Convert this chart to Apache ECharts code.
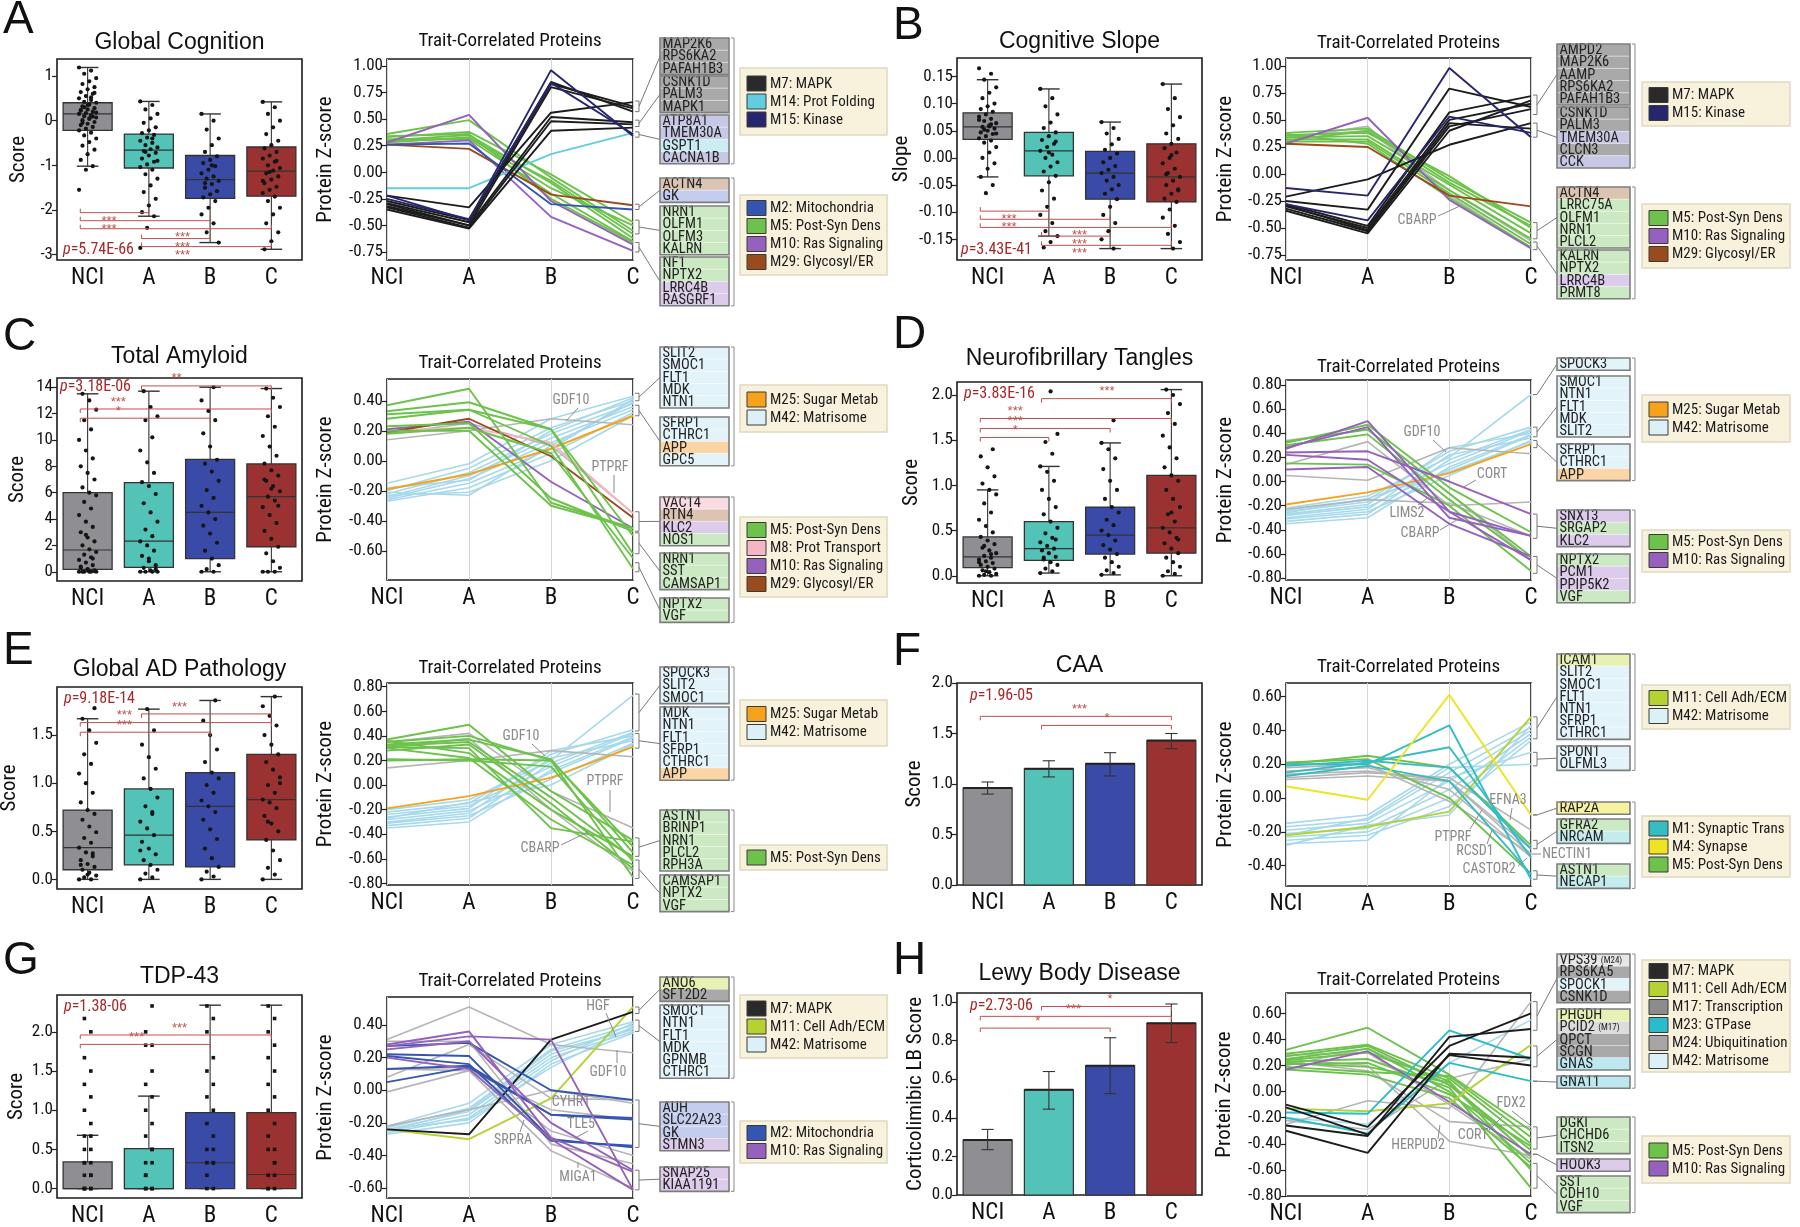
<!DOCTYPE html>
<html><head><meta charset="utf-8">
<script src="https://cdn.jsdelivr.net/npm/echarts@6/dist/echarts.min.js"></script>
<style>html,body{margin:0;padding:0;background:#fff}#c{width:1800px;height:1227px}</style>
</head><body><div id="c"></div>
<script>
// ---------------- DATA ----------------
const CATS = ['NCI','A','B','C'];

// box stats: [min, Q1, median, Q3, max]
const A_box = [[-1.02,-0.22,0.15,0.40,1.19],[-2.14,-1.06,-0.66,-0.30,0.43],[-2.73,-1.74,-1.32,-0.78,0.15],[-2.88,-1.69,-1.13,-0.59,0.42]];
const B_box = [[-0.035,0.034,0.057,0.083,0.144],[-0.144,-0.033,0.013,0.047,0.127],[-0.167,-0.076,-0.028,0.012,0.066],[-0.167,-0.081,-0.035,0.026,0.136]];
const C_box = [[0,0.18,1.65,6.0,13.5],[0,0.33,2.33,6.76,13.7],[0,1.0,4.5,8.53,14.0],[0,1.9,5.7,8.18,13.9]];
const D_box = [[0,0.09,0.21,0.43,0.95],[0.03,0.17,0.30,0.60,1.21],[0.01,0.24,0.45,0.76,1.47],[0,0.25,0.53,1.11,2.06]];
const E_box = [[0,0.10,0.33,0.72,1.67],[0,0.15,0.46,0.94,1.77],[0,0.13,0.76,1.11,1.86],[0,0.41,0.83,1.30,1.90]];
const G_box = [[0,0,0,0.34,0.68],[0,0,0,0.51,1.18],[0,0,0.33,0.97,2.34],[0,0,0.18,0.97,2.34]];

// individual points per group (NCI, A, B, C)
const A_pts = [
 [1.19,1.12,1.05,0.95,0.88,0.82,0.75,0.7,0.64,0.6,0.55,0.5,0.46,0.42,0.4,0.36,0.32,0.28,0.25,0.22,0.2,0.17,0.15,0.12,0.1,0.07,0.04,0.01,-0.03,-0.07,-0.1,-0.14,-0.18,-0.22,-0.27,-0.33,-0.4,-0.48,-0.56,-0.65,-0.75,-0.88,-1.02,-1.1,-1.55,0.52,0.3,0.18,0.05,-0.05,0.62,0.35,0.24,0.09],
 [0.43,0.35,0.25,0.15,0.05,-0.05,-0.15,-0.22,-0.28,-0.32,-0.38,-0.45,-0.5,-0.55,-0.6,-0.64,-0.68,-0.72,-0.78,-0.85,-0.92,-0.98,-1.04,-1.1,-1.2,-1.3,-1.45,-1.6,-1.75,-1.9,-2.05,-2.14,-2.4,-2.85,-0.4,-0.7,-0.9],
 [0.15,0.0,-0.2,-0.4,-0.55,-0.7,-0.8,-0.88,-0.95,-1.02,-1.1,-1.18,-1.25,-1.3,-1.35,-1.42,-1.5,-1.58,-1.65,-1.72,-1.8,-1.95,-2.1,-2.3,-2.5,-2.73,-1.0,-1.4],
 [0.42,0.3,0.15,0.0,-0.15,-0.3,-0.45,-0.55,-0.62,-0.7,-0.78,-0.85,-0.92,-1.0,-1.06,-1.12,-1.18,-1.25,-1.32,-1.4,-1.48,-1.55,-1.62,-1.7,-1.8,-1.95,-2.1,-2.3,-2.5,-2.7,-2.88,-0.9,-1.15,-1.35]
];
const B_pts = [
 [0.165,0.155,0.144,0.13,0.12,0.11,0.1,0.095,0.09,0.085,0.08,0.076,0.072,0.068,0.064,0.06,0.057,0.054,0.05,0.047,0.044,0.04,0.036,0.032,0.028,0.02,0.01,0.0,-0.01,-0.02,-0.035,-0.05,-0.065,0.07,0.062,0.052,0.045,0.058],
 [0.127,0.11,0.095,0.08,0.065,0.055,0.047,0.04,0.033,0.026,0.02,0.013,0.006,0.0,-0.008,-0.016,-0.025,-0.033,-0.045,-0.06,-0.075,-0.09,-0.105,-0.12,-0.135,-0.144,-0.155,-0.165,0.03,0.01],
 [0.066,0.055,0.045,0.035,0.025,0.015,0.008,0.0,-0.008,-0.015,-0.022,-0.028,-0.035,-0.042,-0.05,-0.058,-0.066,-0.076,-0.09,-0.105,-0.12,-0.135,-0.15,-0.167],
 [0.136,0.11,0.09,0.075,0.06,0.045,0.035,0.026,0.018,0.01,0.0,-0.01,-0.02,-0.028,-0.035,-0.042,-0.05,-0.058,-0.066,-0.075,-0.081,-0.095,-0.11,-0.125,-0.14,-0.155,-0.167,-0.03,-0.06,0.005]
];
const C_pts = [
 [0,0,0,0,0,0,0.1,0.2,0.3,0.5,0.7,0.9,1.1,1.3,1.5,1.7,2.0,2.3,2.6,3.0,3.4,3.8,4.3,4.8,5.3,5.8,6.0,6.4,7.0,7.5,8.0,8.6,9.2,10.0,10.8,11.5,12.3,13.0,13.5,0.05,0.15,0.4,1.0,2.8],
 [0,0,0,0,0.1,0.3,0.5,0.8,1.2,1.6,2.0,2.3,2.7,3.2,3.8,4.5,5.2,5.9,6.5,6.8,7.5,8.3,9.2,10.2,11.5,11.8,12.5,13.7,0.2,1.0],
 [0,0,0.2,0.5,1.0,1.6,2.2,2.9,3.5,4.0,4.5,5.0,5.6,6.2,6.9,7.6,8.2,8.5,9.5,10.5,11.5,12.2,13.0,14.0],
 [0,0,0,0.3,0.8,1.4,1.9,2.5,3.1,3.7,4.3,4.9,5.4,5.7,6.1,6.5,6.9,7.3,7.7,8.2,8.8,9.5,10.3,11.0,11.8,12.5,13.2,13.9,5.0,6.3,7.0]
];
const D_pts = [
 [0,0,0.01,0.02,0.04,0.06,0.08,0.1,0.12,0.14,0.16,0.18,0.2,0.22,0.25,0.28,0.31,0.35,0.39,0.43,0.48,0.55,0.62,0.7,0.8,0.9,0.95,1.02,1.1,1.2,1.32,1.4,0.05,0.15,0.24,0.33],
 [0.03,0.05,0.08,0.12,0.15,0.18,0.21,0.25,0.28,0.3,0.33,0.37,0.42,0.47,0.53,0.6,0.68,0.76,0.85,0.95,1.05,1.15,1.21,1.35,1.48,1.57,2.04,0.2,0.4],
 [0.01,0.03,0.06,0.1,0.15,0.2,0.24,0.29,0.34,0.39,0.45,0.5,0.56,0.62,0.7,0.76,0.85,0.95,1.05,1.18,1.3,1.4,1.47,1.72],
 [0,0.02,0.05,0.1,0.15,0.2,0.25,0.3,0.36,0.42,0.48,0.53,0.6,0.68,0.76,0.85,0.95,1.05,1.11,1.2,1.3,1.42,1.55,1.68,1.8,1.9,2.0,2.06,0.4,0.7]
];
const E_pts = [
 [0,0,0.02,0.04,0.07,0.1,0.13,0.16,0.2,0.24,0.28,0.33,0.38,0.43,0.49,0.55,0.62,0.68,0.72,0.8,0.9,1.0,1.1,1.2,1.3,1.42,1.55,1.67,1.78,0.05,0.15,0.27],
 [0,0.02,0.06,0.1,0.15,0.2,0.26,0.32,0.39,0.46,0.53,0.6,0.68,0.76,0.85,0.94,1.05,1.15,1.27,1.4,1.55,1.77,0.3,0.7],
 [0,0.03,0.08,0.13,0.22,0.32,0.42,0.52,0.62,0.7,0.76,0.82,0.9,0.98,1.05,1.11,1.22,1.35,1.5,1.65,1.86],
 [0,0.05,0.12,0.2,0.3,0.41,0.5,0.58,0.66,0.74,0.8,0.83,0.9,0.98,1.06,1.14,1.22,1.3,1.4,1.5,1.6,1.7,1.8,1.9,0.6,1.0]
];
const G_pts = [
 [0,0,0,0,0,0.17,0.17,0.33,0.33,0.5,0.5,0.67,0.67,0.83,1.0,1.17,1.33,1.5,1.67,2.0,2.17,0.17,0.33],
 [0,0,0,0,0.17,0.33,0.33,0.5,0.67,0.83,1.0,1.17,1.33,1.5,1.83,1.83,2.0,2.33,0.17,0.5],
 [0,0,0.17,0.33,0.33,0.5,0.5,0.67,0.83,1.0,1.17,1.33,1.5,1.67,2.0,2.17,2.33,0.33],
 [0,0,0,0.17,0.17,0.33,0.5,0.5,0.67,0.83,1.0,1.17,1.33,1.5,1.67,1.83,2.0,2.17,2.33,0.33]
];

// bar charts: mean and error range
const F_bars = [0.96,1.15,1.20,1.43];
const F_err  = [[0.90,1.02],[1.07,1.23],[1.08,1.31],[1.35,1.50]];
const H_bars = [0.285,0.545,0.67,0.89];
const H_err  = [[0.235,0.34],[0.445,0.64],[0.525,0.815],[0.79,0.99]];

// significance: [from, to, value, stars, labelAt]
const A_sig = [[0,1,-2.06,'***',0.35],[0,2,-2.24,'***',0.35],[0,3,-2.42,'***',1.55],[1,2,-2.64,'***',1.55],[1,3,-2.82,'***',1.55]];
const B_sig = [[0,1,-0.098,'***',0.35],[0,2,-0.113,'***',0.35],[0,3,-0.128,'***',1.5],[1,2,-0.144,'***',1.5],[1,3,-0.161,'***',1.5]];
const C_sig = [[1,3,14.1,'**',1.45],[0,3,12.35,'***',0.5],[0,2,11.65,'*',0.5]];
const D_sig = [[1,3,1.96,'***',1.95],[0,3,1.74,'***',0.45],[0,2,1.63,'***',0.45],[0,1,1.53,'*',0.45]];
const E_sig = [[1,3,1.72,'***',1.5],[0,3,1.63,'***',0.6],[0,2,1.53,'***',0.6]];
const F_sig = [[0,3,1.67,'***',1.5],[1,3,1.58,'*',1.95]];
const G_sig = [[0,3,1.96,'***',1.5],[0,2,1.84,'***',0.8]];
const H_sig = [[1,3,0.977,'*',2.0],[0,3,0.926,'***',1.4],[0,2,0.865,'*',0.82]];

// tick values
const A_yt=[-3,-2,-1,0,1], B_yt=[-0.15,-0.1,-0.05,0,0.05,0.1,0.15], C_yt=[0,2,4,6,8,10,12,14];
const D_yt=[0,0.5,1,1.5,2], E_yt=[0,0.5,1,1.5], F_yt=[0,0.5,1,1.5,2], G_yt=[0,0.5,1,1.5,2], H_yt=[0,0.2,0.4,0.6,0.8,1.0];
const AB_lt=[-0.75,-0.5,-0.25,0,0.25,0.5,0.75,1.0];
const C_lt=[-0.6,-0.4,-0.2,0,0.2,0.4];
const DE_lt=[-0.8,-0.6,-0.4,-0.2,0,0.2,0.4,0.6,0.8];
const F_lt=[-0.4,-0.2,0,0.2,0.4,0.6];
const G_lt=[-0.6,-0.4,-0.2,0,0.2,0.4];
const H_lt=[-0.8,-0.6,-0.4,-0.2,0,0.2,0.4,0.6];

// protein lines: [module, NCI, A, B, C]
const A_lines = [
 ['M5',0.36,0.49,-0.05,-0.55],['M5',0.33,0.38,-0.02,-0.47],['M5',0.30,0.35,-0.10,-0.62],['M5',0.28,0.33,-0.15,-0.50],
 ['M5',0.31,0.31,-0.20,-0.65],['M5',0.34,0.36,-0.25,-0.66],['M5',0.29,0.32,-0.08,-0.58],
 ['M10',0.28,0.54,-0.27,-0.68],['M10',0.26,0.30,-0.42,-0.74],
 ['M29',0.26,0.22,-0.21,-0.31],['M2',0.26,0.27,-0.30,-0.35],['M14',-0.15,-0.15,0.17,0.37],
 ['M7',-0.22,-0.33,0.56,0.66],['M7',-0.27,-0.45,0.85,0.57],['M7',-0.30,-0.50,0.80,0.60],['M7',-0.33,-0.52,0.48,0.45],
 ['M7',-0.35,-0.53,0.39,0.42],['M7',-0.29,-0.47,0.83,0.62],['M7',-0.32,-0.50,0.52,0.47],
 ['M15',-0.22,-0.45,0.96,0.34],['M15',-0.25,-0.44,0.84,0.36]
];
const B_lines = [
 ['GR',0.33,0.44,-0.20,-0.68],['GR',0.35,0.40,-0.15,-0.62],
 ['M5',0.38,0.42,-0.05,-0.45],['M5',0.36,0.38,-0.02,-0.50],['M5',0.34,0.35,-0.10,-0.55],['M5',0.32,0.32,-0.15,-0.60],
 ['M5',0.30,0.30,-0.18,-0.65],['M5',0.37,0.28,-0.22,-0.68],['M5',0.31,0.40,-0.08,-0.48],
 ['M10',0.28,0.52,-0.24,-0.69],['M29',0.28,0.25,-0.20,-0.30],
 ['M7',-0.21,-0.05,0.27,0.47],['M7',-0.25,-0.33,0.79,0.62],['M7',-0.28,-0.48,0.57,0.72],['M7',-0.30,-0.50,0.50,0.65],
 ['M7',-0.32,-0.53,0.44,0.60],['M7',-0.34,-0.55,0.40,0.68],['M7',-0.29,-0.52,0.47,0.42],
 ['M15',-0.13,-0.20,0.98,0.34],['M15',-0.28,-0.43,0.53,0.38]
];
const C_lines = [
 ['M42',-0.15,-0.02,0.28,0.43],['M42',-0.20,-0.05,0.22,0.40],['M42',-0.22,-0.08,0.18,0.38],['M42',-0.24,-0.10,0.15,0.36],
 ['M42',-0.25,-0.12,0.12,0.34],['M42',-0.26,-0.15,0.08,0.41],['M42',-0.27,-0.18,0.05,0.32],['M42',-0.23,-0.21,0.00,0.30],
 ['M42',-0.21,-0.23,0.10,0.39],['M42',-0.18,-0.13,0.20,0.42],
 ['GR',0.14,0.20,0.28,0.24],['GR',0.18,0.25,0.10,-0.35],
 ['M25',-0.19,-0.09,0.08,0.30],['M8',0.20,0.22,0.12,-0.35],['M10',0.21,0.26,-0.14,-0.45],['M29',0.19,0.28,0.03,-0.38],
 ['M5',0.37,0.48,-0.28,-0.45],['M5',0.33,0.39,0.21,-0.50],['M5',0.31,0.34,0.21,-0.62],['M5',0.28,0.34,0.10,-0.72],
 ['M5',0.23,0.25,-0.25,-0.47],['M5',0.20,0.20,-0.30,-0.45],['M5',0.18,0.22,0.05,-0.65]
];
const D_lines = [
 ['M42',-0.22,-0.12,0.20,0.72],['M42',-0.24,-0.15,0.25,0.45],['M42',-0.25,-0.17,0.15,0.42],['M42',-0.27,-0.19,0.28,0.40],
 ['M42',-0.28,-0.21,0.10,0.38],['M42',-0.30,-0.23,0.22,0.36],['M42',-0.31,-0.25,0.05,0.34],['M42',-0.33,-0.27,0.18,0.43],
 ['M42',-0.35,-0.30,0.12,0.39],['M42',-0.26,-0.14,0.08,0.33],
 ['GR',0.05,0.01,0.28,0.23],['GR',0.34,0.43,-0.10,-0.65],['GR',0.14,0.33,-0.20,-0.17],['GR',-0.23,-0.15,-0.18,-0.45],
 ['M25',-0.19,-0.09,0.07,0.31],
 ['M5',0.32,0.47,-0.05,-0.42],['M5',0.30,0.39,-0.15,-0.65],['M5',0.15,0.14,-0.20,-0.74],['M5',0.33,0.43,-0.10,-0.62],
 ['M10',0.27,0.50,-0.25,-0.45],['M10',0.24,0.25,0.00,-0.27],['M10',0.22,0.18,-0.25,-0.65],['M10',0.10,0.12,-0.35,-0.62],['M10',0.28,0.45,-0.30,-0.45]
];
const E_lines = [
 ['M42',-0.20,-0.12,0.20,0.73],['M42',-0.22,-0.15,0.25,0.45],['M42',-0.24,-0.17,0.15,0.42],['M42',-0.26,-0.19,0.28,0.40],
 ['M42',-0.28,-0.21,0.10,0.38],['M42',-0.30,-0.23,0.22,0.36],['M42',-0.31,-0.25,0.05,0.34],['M42',-0.33,-0.27,0.18,0.43],
 ['M42',-0.35,-0.30,0.12,0.39],['M42',-0.27,-0.14,0.00,0.33],
 ['GR',0.14,0.20,0.28,0.23],['GR',0.35,0.42,-0.05,-0.35],['GR',0.30,0.38,-0.20,-0.70],
 ['M25',-0.19,-0.09,0.06,0.31],
 ['M5',0.37,0.49,-0.05,-0.45],['M5',0.35,0.40,0.20,-0.50],['M5',0.33,0.37,0.21,-0.55],['M5',0.32,0.35,-0.10,-0.60],
 ['M5',0.31,0.30,-0.35,-0.46],['M5',0.30,0.22,-0.28,-0.65],['M5',0.20,0.21,0.20,-0.75],['M5',0.28,0.33,-0.15,-0.68],
 ['M5',0.36,0.26,-0.20,-0.58],['M5',0.21,0.20,0.15,-0.62]
];
const F_lines = [
 ['M42',-0.15,-0.10,0.20,0.45],['M42',-0.17,-0.13,0.15,0.42],['M42',-0.19,-0.15,0.10,0.40],['M42',-0.21,-0.18,0.05,0.38],
 ['M42',-0.23,-0.20,0.00,0.36],['M42',-0.25,-0.22,-0.05,0.34],['M42',-0.27,-0.25,0.12,0.27],['M42',-0.22,-0.12,0.18,0.20],
 ['M42',-0.28,-0.16,-0.10,0.43],
 ['GR',0.12,0.15,0.12,-0.19],['GR',0.11,0.13,0.10,-0.33],['GR',0.16,0.18,0.05,-0.35],['GR',0.18,0.20,-0.02,-0.33],['GR',0.14,0.16,0.10,-0.30],
 ['M11',-0.22,-0.17,-0.08,0.48],
 ['M5',0.20,0.25,0.18,-0.28],['M5',0.21,0.23,0.00,-0.45],
 ['M1',0.20,0.20,0.43,-0.48],['M1',0.15,0.21,0.30,-0.35],['M1',0.19,0.22,0.18,-0.30],['M1',0.13,0.19,0.10,-0.45],
 ['M4',0.07,-0.01,0.61,-0.10]
];
const G_lines = [
 ['M42',-0.22,-0.08,0.28,0.42],['M42',-0.23,-0.11,0.25,0.40],['M42',-0.24,-0.13,0.22,0.38],['M42',-0.25,-0.15,0.20,0.36],
 ['M42',-0.26,-0.17,0.18,0.41],['M42',-0.27,-0.20,0.16,0.35],['M42',-0.24,-0.18,0.14,0.39],['M42',-0.25,-0.12,0.24,0.37],
 ['GR',0.31,0.51,0.28,0.23],['GR',0.08,0.28,-0.05,-0.06],['GR',0.13,0.12,-0.37,-0.60],['GR',0.13,0.14,-0.25,-0.40],
 ['GR',-0.01,0.12,-0.12,-0.18],['GR',-0.22,-0.12,0.00,-0.08],['GR',0.30,0.30,-0.33,-0.45],
 ['M11',-0.24,-0.30,-0.05,0.51],['M7',-0.24,-0.27,0.31,0.48],
 ['M2',0.22,0.21,-0.30,-0.35],['M2',0.27,0.29,0.00,-0.06],['M2',0.05,0.14,-0.15,-0.17],['M2',0.21,0.16,-0.31,-0.34],['M2',0.13,0.15,-0.15,-0.18],
 ['M10',0.28,0.36,-0.29,-0.50],['M10',0.27,0.33,0.31,-0.61],['M10',0.20,0.13,-0.30,-0.61],['M10',0.25,0.30,-0.20,-0.49]
];
const H_lines = [
 ['M42',-0.20,-0.25,0.22,0.55],
 ['GR',-0.25,-0.07,-0.13,0.69],['GR',0.23,0.16,-0.23,-0.27],['GR',0.25,0.20,-0.38,-0.49],['GR',0.20,0.33,0.05,-0.50],
 ['GR',-0.22,-0.29,0.10,0.25],['GR',0.28,0.30,-0.10,-0.52],
 ['M5',0.32,0.49,0.13,-0.30],['M5',0.29,0.36,0.10,-0.40],['M5',0.27,0.35,0.05,-0.45],['M5',0.25,0.33,0.00,-0.55],
 ['M5',0.24,0.30,0.08,-0.60],['M5',0.23,0.25,0.03,-0.74],['M5',0.21,0.22,-0.02,-0.42],['M5',0.19,0.15,0.12,-0.35],
 ['M5',0.17,0.13,-0.05,-0.58],['M5',0.22,0.19,0.07,-0.50],
 ['M10',0.17,0.31,-0.08,-0.48],['M11',-0.13,-0.15,-0.09,0.36],
 ['M23',-0.16,-0.17,0.47,0.25],['M23',-0.20,-0.32,0.22,0.08],
 ['M7',-0.10,-0.27,0.35,0.60],['M7',-0.26,-0.34,0.42,0.48],['M7',-0.30,-0.47,0.29,0.26],['M7',-0.12,-0.33,0.28,0.20]
];

// gene label groups: [gene, module]
const A_genes = [
 [['MAP2K6','M7'],['RPS6KA2','M7'],['PAFAH1B3','M7']],
 [['CSNK1D','M7'],['PALM3','M7'],['MAPK1','M7']],
 [['ATP8A1','M15'],['TMEM30A','M15'],['GSPT1','M14'],['CACNA1B','M15']],
 [['ACTN4','M29'],['GK','M2']],
 [['NRN1','M5'],['OLFM1','M5'],['OLFM3','M5'],['KALRN','M5']],
 [['NF1','M5'],['NPTX2','M5'],['LRRC4B','M10'],['RASGRF1','M10']]
];
const B_genes = [
 [['AMPD2','M7'],['MAP2K6','M7'],['AAMP','M7'],['RPS6KA2','M7'],['PAFAH1B3','M7']],
 [['CSNK1D','M7'],['PALM3','M7'],['TMEM30A','M15'],['CLCN3','M7'],['CCK','M15']],
 [['ACTN4','M29'],['LRRC75A','M5'],['OLFM1','M5'],['NRN1','M5'],['PLCL2','M5']],
 [['KALRN','M5'],['NPTX2','M5'],['LRRC4B','M10'],['PRMT8','M5']]
];
const C_genes = [
 [['SLIT2','M42'],['SMOC1','M42'],['FLT1','M42'],['MDK','M42'],['NTN1','M42']],
 [['SFRP1','M42'],['CTHRC1','M42'],['APP','M25'],['GPC5','M42']],
 [['VAC14','M8'],['RTN4','M29'],['KLC2','M10'],['NOS1','M5']],
 [['NRN1','M5'],['SST','M5'],['CAMSAP1','M5']],
 [['NPTX2','M5'],['VGF','M5']]
];
const D_genes = [
 [['SPOCK3','M42']],
 [['SMOC1','M42'],['NTN1','M42'],['FLT1','M42'],['MDK','M42'],['SLIT2','M42']],
 [['SFRP1','M42'],['CTHRC1','M42'],['APP','M25']],
 [['SNX13','M10'],['SRGAP2','M5'],['KLC2','M10']],
 [['NPTX2','M5'],['PCM1','M10'],['PPIP5K2','M10'],['VGF','M5']]
];
const E_genes = [
 [['SPOCK3','M42'],['SLIT2','M42'],['SMOC1','M42']],
 [['MDK','M42'],['NTN1','M42'],['FLT1','M42'],['SFRP1','M42'],['CTHRC1','M42'],['APP','M25']],
 [['ASTN1','M5'],['BRINP1','M5'],['NRN1','M5'],['PLCL2','M5'],['RPH3A','M5']],
 [['CAMSAP1','M5'],['NPTX2','M5'],['VGF','M5']]
];
const F_genes = [
 [['ICAM1','M11'],['SLIT2','M42'],['SMOC1','M42'],['FLT1','M42'],['NTN1','M42'],['SFRP1','M42'],['CTHRC1','M42']],
 [['SPON1','M42'],['OLFML3','M42']],
 [['RAP2A','M4']],
 [['GFRA2','M5'],['NRCAM','M1']],
 [['ASTN1','M5'],['NECAP1','M1']]
];
const G_genes = [
 [['ANO6','M11'],['SFT2D2','M7']],
 [['SMOC1','M42'],['NTN1','M42'],['FLT1','M42'],['MDK','M42'],['GPNMB','M42'],['CTHRC1','M42']],
 [['AUH','M2'],['SLC22A23','M2'],['GK','M2'],['STMN3','M10']],
 [['SNAP25','M10'],['KIAA1191','M10']]
];
const H_genes = [
 [['VPS39 (M24)','M24'],['RPS6KA5','M7'],['SPOCK1','M42'],['CSNK1D','M7']],
 [['PHGDH','M11'],['PCID2 (M17)','M17'],['QPCT','M7'],['SCGN','M7'],['GNAS','M23']],
 [['GNA11','M23']],
 [['DGKI','M5'],['CHCHD6','M5'],['ITSN2','M5']],
 [['HOOK3','M10']],
 [['SST','M5'],['CDH10','M5'],['VGF','M5']]
];

// legends
const A_leg = [['M7','M14','M15'],['M2','M5','M10','M29']];
const B_leg = [['M7','M15'],['M5','M10','M29']];
const C_leg = [['M25','M42'],['M5','M8','M10','M29']];
const D_leg = [['M25','M42'],['M5','M10']];
const E_leg = [['M25','M42'],['M5']];
const F_leg = [['M11','M42'],['M1','M4','M5']];
const G_leg = [['M7','M11','M42'],['M2','M10']];
const H_leg = [['M7','M11','M17','M23','M24','M42'],['M5','M10']];

const MODNAME = {M1:'M1: Synaptic Trans',M2:'M2: Mitochondria',M4:'M4: Synapse',M5:'M5: Post-Syn Dens',M7:'M7: MAPK',M8:'M8: Prot Transport',
 M10:'M10: Ras Signaling',M11:'M11: Cell Adh/ECM',M14:'M14: Prot Folding',M15:'M15: Kinase',M17:'M17: Transcription',M23:'M23: GTPase',
 M24:'M24: Ubiquitination',M25:'M25: Sugar Metab',M29:'M29: Glycosyl/ER',M42:'M42: Matrisome'};

// connectors from line ends to label groups: [value1, value2, group]
const A_conn = [[0.57,0.67,0],[0.43,0.49,1],[0.33,0.38,2],[-0.30,-0.35,3],[-0.45,-0.58,4],[-0.66,-0.75,5]];
const B_conn = [[0.55,0.73,0],[0.34,0.47,1],[-0.45,-0.60,2],[-0.63,-0.70,3]];
const C_conn = [[0.40,0.45,0],[0.30,0.37,1],[-0.34,-0.47,2],[-0.48,-0.62,3],[-0.68,-0.74,4]];
const D_conn = [[0.72,0.72,0],[0.37,0.45,1],[0.28,0.34,2],[-0.27,-0.47,3],[-0.62,-0.76,4]];
const E_conn = [[0.44,0.74,0],[0.30,0.42,1],[-0.43,-0.58,2],[-0.61,-0.76,3]];
const F_conn = [[0.35,0.48,0],[0.19,0.27,1],[-0.10,-0.10,2],[-0.25,-0.30,3],[-0.43,-0.48,4]];
const G_conn = [[0.47,0.51,0],[0.36,0.43,1],[-0.06,-0.35,2],[-0.49,-0.61,3]];
const H_conn = [[0.47,0.69,0],[0.19,0.35,1],[0.08,0.08,2],[-0.27,-0.44,3],[-0.48,-0.48,4],[-0.55,-0.74,5]];

// ---------------- STYLE ----------------
function hasFont(name){
  const c=document.createElement('canvas').getContext('2d');
  const t='abcdefghijklmnopqrstuvwxyzABCDEFGHIJKLMNOPQRSTUVWXYZ0123456789';
  let diff=false;
  ['monospace','serif'].forEach(f=>{
    c.font='40px '+f; const w1=c.measureText(t).width;
    c.font="40px '"+name+"', "+f; const w2=c.measureText(t).width;
    if(Math.abs(w1-w2)>0.5) diff=true;
  });
  return diff;
}
const NARROW = ['Liberation Sans Narrow','Arial Narrow','Roboto Condensed','DejaVu Sans Condensed'].find(hasFont) || 'Liberation Sans';
const NF = "'"+NARROW+"', 'Liberation Sans', Arial, sans-serif";
const SANS = "'Liberation Sans', Arial, sans-serif";

const BOXC = ['#8f8f93','#54c3b7','#3a4aa7','#9b3232'];
const LINEC = {M1:'#37bcc3',M2:'#3556b0',M4:'#efe424',M5:'#6cc24a',M7:'#1c1c1c',M8:'#f4b5c5',M10:'#9461bd',M11:'#b4d333',
 M14:'#62cde0',M15:'#26266f',M17:'#8f8f8f',M23:'#29bccd',M24:'#a3a3a3',M25:'#f7a21b',M29:'#9a4a1c',M42:'#a6d9eb',GR:'#b5b5b5'};
const SWATCH = Object.assign({}, LINEC, {M42:'#dcf0f8',M17:'#8c8c8c',M24:'#a6a6a6',M7:'#2a2a2a'});
const LIGHT = {M1:'#c4ebee',M2:'#c4cdee',M4:'#f6f29e',M5:'#cbe9c2',M7:'#a9a9a9',M8:'#f9dbe3',M10:'#dccbea',M11:'#e6f1b3',
 M14:'#caedf3',M15:'#c7c8e5',M17:'#dcdcdc',M23:'#bde8ef',M24:'#e6e6e6',M25:'#fbd5a5',M29:'#dcc4b2',M42:'#e2f3fa'};
const SIGC = '#c0504d', PC = '#a8282a', NOTEC = '#8a8a8a';

// ---------------- LAYOUT ----------------
const COLS = [
 {box:[57,302], line:[387,633], genes:660, gw:69, leg:740, lw:147, letter:3},
 {box:[957,1202], line:[1286,1531], genes:1557, gw:73, leg:1642, lw:148, letter:893}
];
const RH = 12.2;

const PANELS = [
 {id:'A', col:0, kind:'box', title:'Global Cognition', stats:A_box, pts:A_pts, sig:A_sig, sigDir:-1,
  yMin:-3.12, yMax:1.38, yt:A_yt, yDec:0, yName:'Score', yGap:28,
  lines:A_lines, lMin:-0.825, lMax:1.065, lt:AB_lt, lGap:51,
  boxTop:59, boxBot:260, lineTop:59, lineBot:260, titleY:43, letterY:20, lineTitleY:41,
  pv:'5.74E-66', pvX:63, pvY:250,
  genes:A_genes, gTops:[38,76,115,178,206,257], brk:[[0,2],[3,5]], conn:A_conn,
  leg:A_leg, legPos:[[68,67],[195,80]], notes:[]},
 {id:'B', col:1, kind:'box', title:'Cognitive Slope', stats:B_box, pts:B_pts, sig:B_sig, sigDir:-1,
  yMin:-0.188, yMax:0.184, yt:B_yt, yDec:2, yName:'Slope', yGap:45,
  lines:B_lines, lMin:-0.796, lMax:1.073, lt:AB_lt, lGap:50,
  boxTop:58, boxBot:260, lineTop:58, lineBot:260, titleY:42, letterY:26, lineTitleY:43,
  pv:'3.43E-41', pvX:961, pvY:250,
  genes:B_genes, gTops:[44,107,187,250], brk:[[0,1],[2,3]], conn:B_conn,
  leg:B_leg, legPos:[[82,44],[204,64]],
  notes:[['CBARP',1417,220,1438,216,1460,206]]},
 {id:'C', col:0, kind:'box', title:'Total Amyloid', stats:C_box, pts:C_pts, sig:C_sig, sigDir:1,
  yMin:-0.7, yMax:14.7, yt:C_yt, yDec:0, yName:'Score', yGap:29,
  lines:C_lines, lMin:-0.795, lMax:0.545, lt:C_lt, lGap:51,
  boxTop:378, boxBot:581, lineTop:379, lineBot:580, titleY:357, letterY:337, lineTitleY:363,
  pv:'3.18E-06', pvX:60, pvY:387,
  genes:C_genes, gTops:[347,417,497,553,598], brk:[[0,1],[2,4]], conn:C_conn,
  leg:C_leg, legPos:[[385,47],[517,80]],
  notes:[['GDF10',571,400,578,408,566,421],['PTPRF',610,467,614,475,614,493]]},
 {id:'D', col:1, kind:'box', title:'Neurofibrillary Tangles', stats:D_box, pts:D_pts, sig:D_sig, sigDir:1,
  yMin:-0.08, yMax:2.144, yt:D_yt, yDec:1, yName:'Score', yGap:35,
  lines:D_lines, lMin:-0.815, lMax:0.84, lt:DE_lt, lGap:50,
  boxTop:382, boxBot:583, lineTop:380, lineBot:580, titleY:359, letterY:335, lineTitleY:367,
  pv:'3.83E-16', pvX:964, pvY:394,
  genes:D_genes, gTops:[358,376,444,510,554], brk:[[0,2],[3,4]], conn:D_conn,
  leg:D_leg, legPos:[[395,47],[530,42]],
  notes:[['GDF10',1422,432,1433,440,1446,452],['CORT',1492,474,1476,480,1462,488],['LIMS2',1407,513,1418,505,1430,496],['CBARP',1420,533,1440,530,1460,518]]},
 {id:'E', col:0, kind:'box', title:'Global AD Pathology', stats:E_box, pts:E_pts, sig:E_sig, sigDir:1,
  yMin:-0.1, yMax:2.0, yt:E_yt, yDec:1, yName:'Score', yGap:37,
  lines:E_lines, lMin:-0.813, lMax:0.83, lt:DE_lt, lGap:51,
  boxTop:687, boxBot:889, lineTop:683, lineBot:885, titleY:670, letterY:651, lineTitleY:668,
  pv:'9.18E-14', pvX:64, pvY:699,
  genes:E_genes, gTops:[667,707,810,875], brk:[[0,1],[2,3]], conn:E_conn,
  leg:E_leg, legPos:[[700,46],[845,25]],
  notes:[['GDF10',521,736,532,744,545,756],['PTPRF',605,781,610,790,610,812],['CBARP',540,848,561,845,588,832]]},
 {id:'F', col:1, kind:'bar', title:'CAA', bars:F_bars, err:F_err, sig:F_sig, sigDir:1,
  yMin:0, yMax:2.0, yt:F_yt, yDec:1, yName:'Score', yGap:32,
  lines:F_lines, lMin:-0.52, lMax:0.68, lt:F_lt, lGap:50,
  boxTop:683, boxBot:885, lineTop:683, lineBot:886, titleY:666, letterY:652, lineTitleY:667,
  pv:'1.96-05', pvX:970, pvY:696,
  genes:F_genes, gTops:[654,746,802,819,864], brk:[[0,1],[2,4]], conn:F_conn,
  leg:F_leg, legPos:[[685,44],[816,61]],
  notes:[['EFNA3',1508,800,1512,808,1510,820],['PTPRF',1453,837,1470,829,1482,810],['RCSD1',1475,851,1487,844,1492,830],
         ['NECTIN1',1567,854,1541,854,1532,854],['CASTOR2',1489,869,1518,866,1527,858]]},
 {id:'G', col:0, kind:'box', title:'TDP-43', stats:G_box, pts:G_pts, discrete:true, sig:G_sig, sigDir:1,
  yMin:-0.12, yMax:2.47, yt:G_yt, yDec:1, yName:'Score', yGap:30,
  lines:G_lines, lMin:-0.66, lMax:0.571, lt:G_lt, lGap:51,
  boxTop:995, boxBot:1198, lineTop:997, lineBot:1198, titleY:977, letterY:961, lineTitleY:981,
  pv:'1.38-06', pvX:64, pvY:1007,
  genes:G_genes, gTops:[977,1005,1102,1167], brk:[[0,1],[2,3]], conn:G_conn,
  leg:G_leg, legPos:[[995,63],[1121,42]],
  notes:[['HGF',598,1006,606,1013,616,1037],['GDF10',608,1072,617,1063,617,1050],['CYHR1',571,1102],
         ['TLE5',581,1124,588,1131,575,1138],['SRPRA',513,1140,520,1132,524,1120],['MIGA1',578,1177,578,1168,578,1162]]},
 {id:'H', col:1, kind:'bar', title:'Lewy Body Disease', bars:H_bars, err:H_err, sig:H_sig, sigDir:1,
  yMin:0, yMax:1.047, yt:H_yt, yDec:1, yName:'Corticolimibic LB Score', yGap:31,
  lines:H_lines, lMin:-0.80, lMax:0.756, lt:H_lt, lGap:51,
  boxTop:993, boxBot:1195, lineTop:993, lineBot:1196, titleY:974, letterY:961, lineTitleY:980,
  pv:'2.73-06', pvX:970, pvY:1006,
  genes:H_genes, gTops:[954,1009,1076,1117,1159,1176], brk:[[0,2],[3,5]], conn:H_conn,
  leg:H_leg, legPos:[[960,112],[1136,47]],
  notes:[['FDX2',1511,1103,1512,1111,1530,1125],['CORT',1473,1135,1489,1130,1502,1117],['HERPUD2',1418,1145,1438,1139,1440,1125]]}
];

// ---------------- RENDERERS ----------------
function renderBox(params, api){
  const k=api.value(0);
  const bw=api.size([1,0])[0]*0.8;
  const y=i=>api.coord([k,api.value(i)])[1];
  const x=api.coord([k,api.value(3)])[0];
  const yMin=y(1), yQ1=y(2), yMed=y(3), yQ3=y(4), yMax=y(5), cap=bw*0.22;
  const st={stroke:'#333',lineWidth:1.1};
  return {type:'group', children:[
    {type:'line', shape:{x1:x,y1:yMax,x2:x,y2:yMin}, style:st},
    {type:'line', shape:{x1:x-cap,y1:yMax,x2:x+cap,y2:yMax}, style:{stroke:'#333',lineWidth:1.4}},
    {type:'line', shape:{x1:x-cap,y1:yMin,x2:x+cap,y2:yMin}, style:{stroke:'#333',lineWidth:1.4}},
    {type:'rect', shape:{x:x-bw/2,y:yQ3,width:bw,height:Math.max(yQ1-yQ3,0.5)}, style:{fill:BOXC[k],stroke:'#333',lineWidth:1.3}},
    {type:'line', shape:{x1:x-bw/2,y1:yMed,x2:x+bw/2,y2:yMed}, style:{stroke:'#333',lineWidth:1.2}}
  ]};
}
function renderPts(params, api){
  const p=api.coord([api.value(0),api.value(1)]);
  const cw=api.size([1,0])[0];
  const j=api.value(2);
  const off=(((j*7)%11)/10-0.5)*cw*0.28;
  return {type:'circle', shape:{cx:p[0]+off, cy:p[1], r:2.1}, style:{fill:'#151515'}};
}
function renderPtsD(params, api){
  const p=api.coord([api.value(0),api.value(1)]);
  const j=api.value(2);
  const off=(j%2?1:-1)*3.2;
  return {type:'rect', shape:{x:p[0]+off-1.8, y:p[1]-1.8, width:3.6, height:3.6}, style:{fill:'#151515'}};
}
function renderBar(params, api){
  const k=api.value(0);
  const p=api.coord([k,api.value(1)]), p0=api.coord([k,0]);
  const bw=api.size([1,0])[0]*0.8;
  return {type:'group', children:[
    {type:'rect', shape:{x:p[0]-bw/2,y:p[1],width:bw,height:p0[1]-p[1]}, style:{fill:BOXC[k],stroke:'#333',lineWidth:1.2}},
    {type:'line', shape:{x1:p[0]-bw/2,y1:p[1],x2:p[0]+bw/2,y2:p[1]}, style:{stroke:'#222',lineWidth:2}}
  ]};
}
function renderErr(params, api){
  const k=api.value(0);
  const lo=api.coord([k,api.value(1)]), hi=api.coord([k,api.value(2)]);
  const c=api.size([1,0])[0]*0.1;
  const st={stroke:'#333',lineWidth:1.1};
  return {type:'group', children:[
    {type:'line', shape:{x1:lo[0],y1:lo[1],x2:hi[0],y2:hi[1]}, style:st},
    {type:'line', shape:{x1:lo[0]-c,y1:lo[1],x2:lo[0]+c,y2:lo[1]}, style:st},
    {type:'line', shape:{x1:hi[0]-c,y1:hi[1],x2:hi[0]+c,y2:hi[1]}, style:st}
  ]};
}
function renderSig(params, api){
  const x1=api.value(0), v=api.value(1), x2=api.value(2), lx=api.value(3), n=api.value(4), dir=api.value(5);
  const p1=api.coord([x1,v]), p2=api.coord([x2,v]), cw=api.size([1,0])[0];
  const t=dir*4, a=p1[0]-cw*0.12, b=p2[0];
  return {type:'group', children:[
    {type:'polyline', shape:{points:[[a,p1[1]+t],[a,p1[1]],[b,p2[1]],[b,p2[1]+t]]}, style:{stroke:SIGC,lineWidth:1,fill:null}},
    {type:'text', x:p1[0]+(lx-x1)*cw, y:p1[1]+(dir>0?-0.5:2), style:{text:'*'.repeat(n), fill:SIGC, fontSize:13, fontFamily:SANS,
      align:'center', verticalAlign:dir>0?'bottom':'top'}}
  ]};
}

function yAxisCfg(g,min,max,ticks,dec,name,gap){
  return {type:'value', gridIndex:g, min:min, max:max, name:name, nameLocation:'middle', nameGap:gap,
    nameTextStyle:{fontSize:21, fontFamily:NF, color:'#111'},
    axisLine:{show:false}, splitLine:{show:false},
    axisTick:{show:true, customValues:ticks, length:5, lineStyle:{color:'#222',width:1.2}},
    axisLabel:{customValues:ticks, formatter:v=>(+v).toFixed(dec), fontSize:17, fontFamily:NF, color:'#111', margin:4}};
}
const yPix=(v,lo,hi,top,bot)=>top+(hi-v)/(hi-lo)*(bot-top);

// ---------------- BUILD ----------------
const grids=[], xAxes=[], yAxes=[], series=[], gfx=[];
const T=(x,y,text,o)=>Object.assign({type:'text', x:x, y:y, z:100, style:Object.assign({text:text, fill:'#111', fontFamily:SANS}, o||{})});

PANELS.forEach(P=>{
  const C=COLS[P.col];
  const gb=grids.length;
  const gBase={show:true, borderColor:'#1c1c1c', borderWidth:1.6, backgroundColor:'transparent', containLabel:false, outerBoundsMode:'none'};
  grids.push(Object.assign({left:C.box[0], top:P.boxTop, width:C.box[1]-C.box[0], height:P.boxBot-P.boxTop}, gBase));
  grids.push(Object.assign({left:C.line[0], top:P.lineTop, width:C.line[1]-C.line[0], height:P.lineBot-P.lineTop}, gBase));
  const xl={interval:0, fontSize:23, fontFamily:NF, color:'#111', margin:7};
  xAxes.push({type:'category', gridIndex:gb, data:CATS, boundaryGap:true, axisLine:{show:false}, axisTick:{show:false}, splitLine:{show:false}, axisLabel:xl});
  xAxes.push({type:'category', gridIndex:gb+1, data:CATS, boundaryGap:false, axisLine:{show:false}, axisTick:{show:false},
    splitLine:{show:true, interval:0, lineStyle:{color:'#d6d6d6',width:1}}, axisLabel:xl});
  yAxes.push(yAxisCfg(gb, P.yMin, P.yMax, P.yt, P.yDec, P.yName, P.yGap));
  yAxes.push(yAxisCfg(gb+1, P.lMin, P.lMax, P.lt, 2, 'Protein Z-score', P.lGap));

  const base={xAxisIndex:gb, yAxisIndex:gb, silent:true, animation:false};
  if(P.kind==='box'){
    series.push(Object.assign({type:'custom', renderItem:renderBox, encode:{x:0,y:1}, z:3,
      data:P.stats.map((s,k)=>[k].concat(s))}, base));
    const pd=[]; P.pts.forEach((arr,k)=>arr.forEach((v,j)=>pd.push([k,v,j])));
    series.push(Object.assign({type:'custom', renderItem:P.discrete?renderPtsD:renderPts, encode:{x:0,y:1}, z:4, data:pd}, base));
  } else {
    series.push(Object.assign({type:'custom', renderItem:renderBar, encode:{x:0,y:1}, z:3, data:P.bars.map((v,k)=>[k,v])}, base));
    series.push(Object.assign({type:'custom', renderItem:renderErr, encode:{x:0,y:[1,2]}, z:4, data:P.err.map((e,k)=>[k,e[0],e[1]])}, base));
  }
  series.push(Object.assign({type:'custom', renderItem:renderSig, encode:{x:0,y:1}, z:5,
    data:P.sig.map(s=>[s[0],s[2],s[1],s[4],s[3].length,P.sigDir])}, base));

  P.lines.forEach(L=>{
    const light=(L[0]==='M42'||L[0]==='GR');
    series.push({type:'line', xAxisIndex:gb+1, yAxisIndex:gb+1, data:L.slice(1), symbol:'none', silent:true, animation:false,
      lineStyle:{color:LINEC[L[0]], width:light?1.6:1.9}, z:light?2:3});
  });

  // texts
  gfx.push(T(C.letter, P.letterY, P.id, {fontSize:46, verticalAlign:'middle'}));
  gfx.push(T((C.box[0]+C.box[1])/2, P.titleY, P.title, {fontSize:23, align:'center', verticalAlign:'middle'}));
  gfx.push(T((C.line[0]+C.line[1])/2, P.lineTitleY, 'Trait-Correlated Proteins', {fontSize:19, fontFamily:NF, align:'center', verticalAlign:'middle'}));
  gfx.push(T(P.pvX, P.pvY, '{i|p}{n|='+P.pv+'}', {fontSize:16, fontFamily:NF, fill:PC, verticalAlign:'middle',
    rich:{i:{fontSize:16, fontFamily:NF, fontStyle:'italic', fill:PC}, n:{fontSize:16, fontFamily:NF, fill:PC}}}));

  // gene groups
  const gx=C.genes, gw=C.gw, mids=[], spans=[];
  const GF=14.5;
  P.genes.forEach((grp,gi)=>{
    const top=P.gTops[gi];
    grp.forEach((it,r)=>{
      const y=top+r*RH;
      gfx.push({type:'rect', z:100, shape:{x:gx,y:y,width:gw,height:RH}, style:{fill:LIGHT[it[1]], stroke:'rgba(255,255,255,0.55)', lineWidth:0.6}});
      const m=it[0].match(/^(\S+) \((M\d+)\)$/);
      if(m){
        gfx.push(T(gx+2.5, y+RH/2+0.5, '{a|'+m[1]+'} {b|('+m[2]+')}', {fontSize:GF, fontFamily:NF, fill:'#222', verticalAlign:'middle',
          rich:{a:{fontSize:GF,fontFamily:NF,fill:'#222'}, b:{fontSize:9,fontFamily:NF,fill:'#222'}}}));
      } else {
        gfx.push(T(gx+2.5, y+RH/2+0.5, it[0], {fontSize:GF, fontFamily:NF, fill:'#222', verticalAlign:'middle'}));
      }
    });
    const h=grp.length*RH;
    gfx.push({type:'rect', z:102, shape:{x:gx,y:top,width:gw,height:h}, style:{fill:null, stroke:'#7d7d7d', lineWidth:1.6}});
    mids.push(top+h/2); spans.push([top,top+h]);
  });
  P.brk.forEach(b=>{
    const bx=gx+gw+5, y1=spans[b[0]][0], y2=spans[b[1]][1];
    gfx.push({type:'polyline', z:100, shape:{points:[[bx-3,y1],[bx,y1],[bx,y2],[bx-3,y2]]}, style:{stroke:'#8a8a8a', lineWidth:1, fill:null}});
  });
  P.conn.forEach(c=>{
    const ya=yPix(c[0],P.lMin,P.lMax,P.lineTop,P.lineBot), yb=yPix(c[1],P.lMin,P.lMax,P.lineTop,P.lineBot);
    const x0=C.line[1]+2, x1=x0+4, ym=(ya+yb)/2;
    gfx.push({type:'polyline', z:100, shape:{points:[[x0,ya],[x1,ya],[x1,yb],[x0,yb]]}, style:{stroke:'#777', lineWidth:1, fill:null}});
    gfx.push({type:'line', z:100, shape:{x1:x1,y1:ym,x2:gx,y2:mids[c[2]]}, style:{stroke:'#777', lineWidth:1}});
  });
  // legends
  P.leg.forEach((mods,li)=>{
    const top=P.legPos[li][0], h=P.legPos[li][1];
    gfx.push({type:'rect', z:100, shape:{x:C.leg,y:top,width:C.lw,height:h}, style:{fill:'#f8f2dd', stroke:'#e0d9c0', lineWidth:1.5}});
    const y0=top+(h-(mods.length-1)*18)/2;
    mods.forEach((m,k)=>{
      const y=y0+k*18;
      gfx.push({type:'rect', z:101, shape:{x:C.leg+7,y:y-7.5,width:19,height:15}, style:{fill:SWATCH[m], stroke:'#3a3a3a', lineWidth:1}});
      gfx.push(T(C.leg+30, y+0.5, MODNAME[m], {fontSize:15, fontFamily:NF, fill:'#1a1a1a', verticalAlign:'middle'}));
    });
  });
  // notes
  P.notes.forEach(n=>{
    gfx.push(T(n[1], n[2], n[0], {fontSize:14, fontFamily:NF, fill:NOTEC, align:'center', verticalAlign:'middle'}));
    if(n.length>3) gfx.push({type:'line', z:100, shape:{x1:n[3],y1:n[4],x2:n[5],y2:n[6]}, style:{stroke:NOTEC, lineWidth:1}});
  });
});

const chart = echarts.init(document.getElementById('c'), null, {renderer:'canvas', width:1800, height:1227});
chart.setOption({
  animation:false, backgroundColor:'#ffffff',
  grid:grids, xAxis:xAxes, yAxis:yAxes, series:series,
  graphic:{elements:gfx}
});
</script></body></html>
